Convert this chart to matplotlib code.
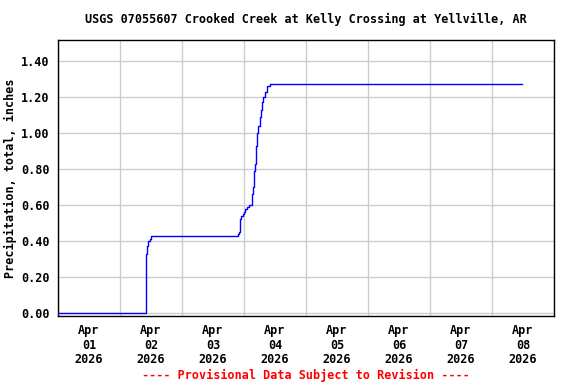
import numpy as np
import pandas as pd
import matplotlib
matplotlib.use('Agg')
import matplotlib.pyplot as plt
import matplotlib.dates as mdates

# 读数：累计降水 (inches)
times = [
    "2026-04-01 00:00", "2026-04-02 09:45", "2026-04-02 10:00", "2026-04-02 10:15",
    "2026-04-02 10:30", "2026-04-02 11:00", "2026-04-02 11:30", "2026-04-02 12:00",
    "2026-04-03 21:45", "2026-04-03 22:15", "2026-04-03 22:30", "2026-04-03 23:00",
    "2026-04-03 23:30", "2026-04-04 00:00", "2026-04-04 00:30", "2026-04-04 01:15",
    "2026-04-04 02:00", "2026-04-04 03:00", "2026-04-04 03:15", "2026-04-04 03:30",
    "2026-04-04 03:45", "2026-04-04 04:00", "2026-04-04 04:15", "2026-04-04 04:30",
    "2026-04-04 04:45", "2026-04-04 05:00", "2026-04-04 05:30", "2026-04-04 06:00",
    "2026-04-04 06:30", "2026-04-04 07:00", "2026-04-04 07:30", "2026-04-04 08:00",
    "2026-04-04 08:45", "2026-04-04 10:00", "2026-04-08 11:45",
]
precip = [
    0.00, 0.00, 0.24, 0.33,
    0.37, 0.40, 0.41, 0.43,
    0.44, 0.45, 0.52, 0.54,
    0.55, 0.56, 0.58, 0.59,
    0.60, 0.61, 0.66, 0.70,
    0.75, 0.79, 0.83, 0.88,
    0.93, 1.00, 1.04, 1.09,
    1.13, 1.17, 1.20, 1.23,
    1.26, 1.27, 1.27,
]
y_ticks = [0.0, 0.2, 0.4, 0.6, 0.8, 1.0, 1.2, 1.4]
day_labels = ["Apr\n01\n2026", "Apr\n02\n2026", "Apr\n03\n2026", "Apr\n04\n2026",
              "Apr\n05\n2026", "Apr\n06\n2026", "Apr\n07\n2026", "Apr\n08\n2026"]

t = pd.to_datetime(times)
start = pd.Timestamp("2026-04-01")
end = pd.Timestamp("2026-04-09")

plt.rcParams['font.family'] = ['DejaVu Sans Mono']
plt.rcParams['font.weight'] = 'bold'
fs = 8.5

fig = plt.figure(figsize=(5.76, 3.84), dpi=100)
ax = fig.add_axes([58/576, 1-316/384, 496/576, 276/384])

ax.plot(t, precip, color='#0000ff', linewidth=1.0, drawstyle='steps-post', zorder=3)

ax.set_xlim(start, end)
ax.set_ylim(-0.017, 1.517)

# 网格：午夜竖线，标签放在中午
midnights = pd.date_range(start, end, freq='D')
noons = midnights[:-1] + pd.Timedelta(hours=12)
ax.set_xticks(noons)
ax.set_xticklabels(day_labels, fontsize=fs, fontweight='bold', linespacing=1.15)
ax.set_xticks(midnights, minor=True)
ax.grid(True, which='minor', axis='x', color='#cccccc', linewidth=1.0)
ax.set_yticks(y_ticks)
ax.set_yticklabels([f"{v:.2f}" for v in y_ticks], fontsize=fs, fontweight='bold')
ax.grid(True, which='major', axis='y', color='#cccccc', linewidth=1.0)
ax.set_axisbelow(True)

ax.tick_params(axis='both', which='both', length=0)
ax.tick_params(axis='x', which='major', pad=6)
ax.tick_params(axis='y', which='major', pad=6)
for s in ax.spines.values():
    s.set_linewidth(1.0)

ax.set_ylabel('Precipitation, total, inches', fontsize=fs, fontweight='bold', labelpad=3)
fig.text(306/576, 1-19/384, 'USGS 07055607 Crooked Creek at Kelly Crossing at Yellville, AR',
         ha='center', va='center', fontsize=fs, fontweight='bold')
fig.text(306/576, 1-375/384, '---- Provisional Data Subject to Revision ----',
         ha='center', va='center', fontsize=fs, fontweight='bold', color='#ff0000')

fig.savefig('out.png', dpi=100)
plt.close(fig)
